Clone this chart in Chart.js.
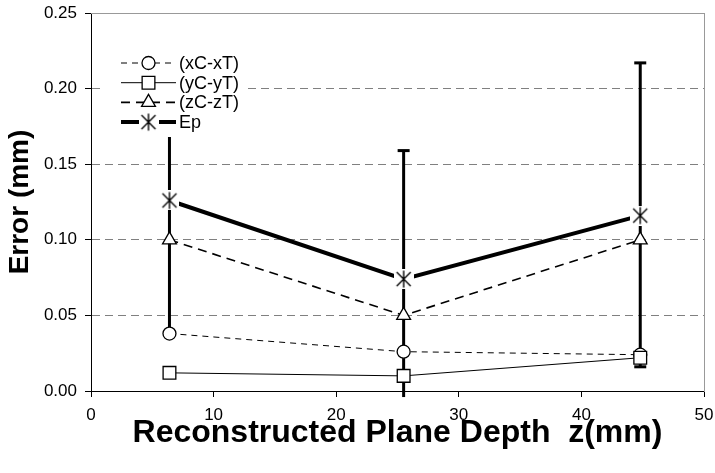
<!DOCTYPE html>
<html><head><meta charset="utf-8">
<script src="https://cdn.jsdelivr.net/npm/chart.js@4/dist/chart.umd.min.js"></script>
<style>html,body{margin:0;padding:0;background:#fff;}#wrap{width:715px;height:473px;}</style>
</head><body><div id="wrap"><canvas id="c" width="715" height="473"></canvas></div>
<script>
// ---- data ----
const depths = [6.4, 25.5, 44.8];
const xErrVals = [0.038, 0.026, 0.024];
const yErrVals = [0.012, 0.010, 0.022];
const zErrVals = [0.100, 0.050, 0.100];
const epVals = [0.126, 0.074, 0.116];
const epLow = [0.038, -0.004, 0.016];
const epHigh = [0.215, 0.159, 0.217];
const seriesLabels = ['(xC-xT)', '(yC-yT)', '(zC-zT)', 'Ep'];
const xTickValues = [0, 10, 20, 30, 40, 50];
const yTickValues = [0, 0.05, 0.10, 0.15, 0.20, 0.25];
const xTitle = 'Reconstructed Plane Depth  z(mm)';
const yTitle = 'Error (mm)';

const FAM = '"Liberation Sans", Arial, Helvetica, sans-serif';

function makeStar() {
  const c = document.createElement('canvas');
  c.width = 20; c.height = 20;
  const g = c.getContext('2d');
  g.fillStyle = '#fff'; g.fillRect(0, 0, 20, 20);
  g.strokeStyle = '#000'; g.lineWidth = 1.4;
  g.beginPath();
  g.moveTo(3, 3); g.lineTo(17, 17);
  g.moveTo(17, 3); g.lineTo(3, 17);
  g.moveTo(10, 1.5); g.lineTo(10, 18.5);
  g.stroke();
  return c;
}
const starImg = makeStar();

const pts = vals => depths.map((d, i) => ({ x: d, y: vals[i] }));

const errorSets = depths.map((d, i) => ({
  label: 'err' + i,
  data: [{ x: d, y: epLow[i] }, { x: d, y: epHigh[i] }],
  borderColor: '#000', borderWidth: 3, borderCapStyle: 'butt',
  pointStyle: 'line',
  pointRadius: c => (c.raw && c.raw.y < 0 ? 0 : 6),
  pointBorderWidth: 3, pointBorderColor: '#000', pointBackgroundColor: '#000',
  clip: false, order: 10
}));

const seriesSets = [
  { label: seriesLabels[0], data: pts(xErrVals), borderColor: '#000', borderWidth: 1, borderDash: [6, 5],
    pointStyle: 'circle', pointRadius: 6.5, pointBorderWidth: 1.3, pointBackgroundColor: '#fff', pointBorderColor: '#000', order: 4 },
  { label: seriesLabels[1], data: pts(yErrVals), borderColor: '#000', borderWidth: 1, borderDash: [],
    pointStyle: 'rect', pointRadius: 9, pointBorderWidth: 1.3, pointBackgroundColor: '#fff', pointBorderColor: '#000', order: 3 },
  { label: seriesLabels[2], data: pts(zErrVals), borderColor: '#000', borderWidth: 1.6, borderDash: [9, 6],
    pointStyle: 'triangle', pointRadius: 8, pointBorderWidth: 1.3, pointBackgroundColor: '#fff', pointBorderColor: '#000', order: 2 },
  { label: seriesLabels[3], data: pts(epVals), borderColor: '#000', borderWidth: 4, borderDash: [],
    pointStyle: starImg, pointRadius: 9, pointBorderWidth: 1.3, pointBackgroundColor: '#fff', pointBorderColor: '#000', order: 1 }
];

const insideLegend = {
  id: 'insideLegend',
  afterDatasetsDraw(chart) {
    const ctx = chart.ctx;
    const area = chart.chartArea;
    const bx = area.left + 10, by = area.top + 37, bw = 145, bh = 87;
    ctx.save();
    ctx.fillStyle = '#fff';
    ctx.fillRect(bx, by, bw, bh);
    const lineX0 = area.left + 30, lineX1 = area.left + 85, mx = area.left + 57.5, tx = area.left + 88;
    seriesSets.forEach((ds, i) => {
      const y = area.top + 50 + i * 19.7;
      ctx.save();
      ctx.strokeStyle = ds.borderColor; ctx.lineWidth = ds.borderWidth;
      ctx.setLineDash(ds.borderDash || []);
      ctx.lineCap = 'butt';
      ctx.beginPath(); ctx.moveTo(lineX0, y); ctx.lineTo(lineX1, y); ctx.stroke();
      ctx.restore();
      ctx.save();
      ctx.fillStyle = ds.pointBackgroundColor; ctx.strokeStyle = ds.pointBorderColor;
      ctx.lineWidth = ds.pointBorderWidth; ctx.setLineDash([]);
      Chart.helpers.drawPoint(ctx, { pointStyle: ds.pointStyle, radius: ds.pointRadius, rotation: 0, borderWidth: ds.pointBorderWidth }, mx, y);
      ctx.restore();
      ctx.fillStyle = '#000';
      ctx.font = '18px ' + FAM;
      ctx.textBaseline = 'middle'; ctx.textAlign = 'left';
      ctx.fillText(ds.label, tx, y + 1);
    });
    ctx.restore();
  }
};

new Chart(document.getElementById('c'), {
  type: 'line',
  data: { datasets: [...errorSets, ...seriesSets] },
  plugins: [insideLegend],
  options: {
    responsive: false, animation: false,
    layout: { padding: { left: 0, top: 13, right: 11, bottom: 0 } },
    elements: { line: { tension: 0, fill: false } },
    plugins: { legend: { display: false }, tooltip: { enabled: false } },
    scales: {
      x: {
        type: 'linear', position: 'bottom', min: 0, max: 50,
        afterBuildTicks: a => { a.ticks = xTickValues.map(v => ({ value: v })); },
        afterFit: a => { a.height = 82; a.paddingLeft = 0; a.paddingRight = 0; },
        ticks: { font: { size: 17, family: FAM }, color: '#000', padding: 8, maxRotation: 0, callback: v => String(v) },
        grid: { drawOnChartArea: false, drawTicks: true, tickLength: 6, tickColor: '#000', color: '#000' },
        border: { display: true, color: '#000', width: 1 },
        title: { display: true, text: xTitle, color: '#000', font: { size: 32, weight: 'bold', family: FAM }, padding: { top: 0, bottom: 21 } }
      },
      y: {
        type: 'linear', position: 'left', min: 0, max: 0.25,
        afterBuildTicks: a => { a.ticks = yTickValues.map(v => ({ value: v })); },
        afterFit: a => { a.width = 91; a.paddingTop = 0; a.paddingBottom = 0; },
        ticks: { font: { size: 17, family: FAM }, color: '#000', padding: 8, callback: v => Number(v).toFixed(2) },
        grid: { drawOnChartArea: true, drawTicks: true, tickLength: 6, tickColor: '#000',
          color: c => (c.tick && c.tick.value > 0.001 && c.tick.value < 0.249 ? '#808080' : 'rgba(0,0,0,0)') },
        border: { display: true, color: '#000', width: 1, dash: [8, 5] },
        title: { display: true, text: yTitle, color: '#000', font: { size: 28, weight: 'bold', family: FAM }, padding: { top: 3, bottom: 0 } }
      },
      x2: {
        type: 'linear', position: 'top', min: 0, max: 50,
        ticks: { display: false },
        grid: { drawOnChartArea: false, drawTicks: false },
        border: { display: true, color: '#999', width: 1 },
        afterFit: a => { a.height = 0; }
      },
      y2: {
        type: 'linear', position: 'right', min: 0, max: 0.25,
        ticks: { display: false },
        grid: { drawOnChartArea: false, drawTicks: false },
        border: { display: true, color: '#999', width: 1 },
        afterFit: a => { a.width = 0; }
      }
    }
  }
});
</script>
</body></html>
